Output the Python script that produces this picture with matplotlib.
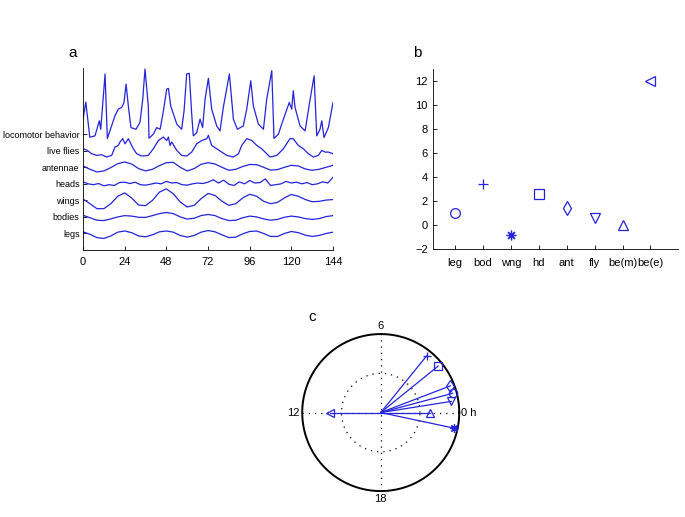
import numpy as np
import matplotlib
matplotlib.use("Agg")
import matplotlib.pyplot as plt

plt.rcParams["font.family"] = ["Liberation Sans", "DejaVu Sans"]

AZUL = "#2424dc"
ASTERISCO = (8, 2, 0)   # '*' estilo matlab (líneas, no estrella rellena)

# =============================================================
# DATOS - panel a (valores relativos a la línea base de cada traza)
# =============================================================
trace_names = ["legs", "bodies", "wings", "heads", "antennae", "live flies",
               "locomotor behavior"]

t4 = np.arange(0, 145, 4)      # muestras cada 4 h
t3 = np.arange(0, 145, 3)      # muestras cada 3 h

legs_v = [0.10, -0.05, -0.25, -0.30, -0.15, 0.08, 0.15, 0.05, -0.15, -0.20,
          -0.08, 0.10, 0.15, 0.08, -0.12, -0.22, -0.12, 0.08, 0.18, 0.10,
          -0.08, -0.25, -0.22, -0.02, 0.12, 0.15, 0.00, -0.18, -0.18, 0.00,
          0.12, 0.05, -0.10, -0.18, -0.12, 0.00, 0.08]

bodies_v = [0.10, -0.05, -0.20, -0.22, -0.12, 0.00, 0.08, 0.05, -0.02, -0.03,
            0.08, 0.20, 0.27, 0.20, 0.00, -0.13, -0.08, 0.08, 0.15, 0.08,
            -0.10, -0.22, -0.20, -0.05, 0.05, 0.00, -0.12, -0.20, -0.15, -0.02,
            0.05, 0.00, -0.10, -0.15, -0.10, 0.02, 0.08]

wings_v = [0.08, -0.20, -0.50, -0.50, -0.20, 0.25, 0.45, 0.15, -0.28, -0.32,
           0.00, 0.50, 0.70, 0.40, -0.10, -0.40, -0.30, 0.10, 0.42, 0.30,
           -0.05, -0.30, -0.20, 0.15, 0.37, 0.25, -0.05, -0.20, -0.12, 0.15,
           0.36, 0.25, 0.05, -0.08, -0.06, 0.02, 0.05]

heads_v = [0.12, 0.00, -0.05, 0.02, -0.12, -0.05, -0.10, 0.08, 0.10, 0.02,
           0.10, -0.05, -0.08, -0.02, 0.05, 0.00, 0.15, 0.05, 0.08, -0.05,
           -0.08, 0.00, 0.05, 0.02, 0.10, 0.25, 0.05, 0.22, -0.02, -0.10,
           0.12, 0.00, 0.20, 0.05, 0.08, 0.30, -0.10, -0.05, 0.00, 0.15,
           0.05, 0.10, 0.00, 0.08, -0.05, 0.00, 0.12, 0.05, 0.40]

antennae_v = [0.08, -0.12, -0.28, -0.22, -0.02, 0.22, 0.32, 0.20, -0.08, -0.22,
              -0.12, 0.10, 0.28, 0.30, 0.00, -0.22, -0.08, 0.18, 0.28, 0.20,
              0.00, -0.18, -0.12, 0.05, 0.17, 0.16, 0.00, -0.17, -0.14, 0.00,
              0.12, 0.08, -0.10, -0.18, -0.12, 0.00, 0.12]

fly_t = [0.2, 2.5, 5, 7.9, 10.8, 13.6, 16.5, 18.4, 20.3, 21.3, 22.9, 24.2, 26.1,
         28, 29, 30.9, 33.8, 37.6, 40.5, 43.4, 46.3, 48.2, 49.2, 50.1, 51.1, 54,
         56.8, 59.7, 62.6, 65.5, 68.4, 71.3, 72.2, 74.1, 77, 79.9, 82.8, 86.6,
         89.5, 91.4, 94.3, 97.2, 100.1, 102.9, 105.8, 107.7, 111.6, 115.4,
         119.2, 121.1, 124, 126.9, 129.8, 132.7, 135.5, 137.5, 139.4, 141.3, 144]
fly_v = [0.12, 0.02, -0.18, -0.28, -0.24, -0.38, -0.28, 0.22, 0.32, 0.53, 0.73,
         0.42, 0.73, 0.32, 0.12, -0.18, -0.32, -0.28, 0.12, 0.62, 0.83, 0.62,
         0.83, 0.32, 0.53, 0.02, -0.28, -0.32, -0.08, 0.42, 0.62, 0.73, 0.93,
         0.32, 0.12, -0.08, -0.28, -0.38, -0.18, 0.32, 0.73, 0.62, 0.32, 0.12,
         -0.18, -0.38, -0.28, 0.12, 0.73, 0.73, 0.32, 0.12, -0.18, -0.38, -0.28,
         0.02, -0.08, -0.08, -0.18]

loco_t = [0, 1.6, 3.9, 6.9, 9.4, 10.2, 12.7, 14, 18.4, 20.3, 22.3, 23.6, 24.8,
          26.1, 27.6, 30.5, 32.8, 34.4, 35.7, 37.6, 38, 40.5, 42.4, 44.4, 46.3,
          48.2, 49.2, 50.5, 54, 56.8, 58.2, 59.7, 61.2, 62.6, 63.5, 65.5, 67.4,
          68.9, 70.3, 72.2, 74.1, 77, 78.9, 80.8, 84.3, 86.6, 88.9, 92.3, 94.3,
          96.6, 98.1, 101, 103.9, 105.8, 108.7, 110, 112.5, 115.4, 118.8, 120.2,
          121.1, 122.1, 125, 127.9, 130.8, 133.1, 134.6, 136.5, 137.5, 138.8,
          141.3, 144]
loco_v = [0.91, 1.94, -0.18, -0.10, 0.81, 0.30, 3.64, -0.26, 1.11, 1.52, 1.62,
          1.92, 3.03, 1.71, 0.40, 0.30, 0.71, 2.12, 3.94, 1.71, -0.24, 0.00,
          0.40, 0.30, 1.41, 2.73, 2.77, 1.71, 0.61, 0.30, 1.41, 3.64, 3.68, 1.21,
          -0.10, 0.10, 0.91, 0.40, 2.12, 3.38, 1.52, 0.50, 0.20, 1.62, 3.64, 0.91,
          0.30, 0.50, 1.52, 3.23, 1.71, 0.61, 0.30, 2.12, 3.84, -0.26, 0.00, 0.91,
          1.92, 1.52, 2.63, 1.62, 0.50, 0.20, 2.12, 3.53, -0.10, 0.30, 0.81,
          -0.20, 0.40, 1.92]

# =============================================================
# DATOS - paneles b y c (fase en horas, amplitud relativa)
# =============================================================
cat_labels = ["leg", "bod", "wng", "hd", "ant", "fly", "be(m)", "be(e)"]
cat_markers = ["o", "+", ASTERISCO, "s", "d", "v", "^", "<"]
phase_h = [1.0, 3.4, -0.8, 2.6, 1.4, 0.6, 0.0, 12.0]
amplitude = [0.95, 0.93, 0.95, 0.94, 0.95, 0.91, 0.63, 0.65]

fig = plt.figure(figsize=(6.85, 5.17), dpi=100)

# =============================================================
# PANEL a
# =============================================================
ax1 = fig.add_axes([0.1212, 0.5164, 0.3650, 0.3520])
series = [(t4, legs_v), (t4, bodies_v), (t4, wings_v), (t3, heads_v),
          (t4, antennae_v), (fly_t, fly_v), (loco_t, loco_v)]
for nivel, (tt, vv) in enumerate(series, start=1):
    ax1.plot(tt, np.array(vv) + nivel, color=AZUL, lw=0.9)
ax1.set_xlim(0, 144)
ax1.set_ylim(0, 11)
ax1.set_xticks(range(0, 145, 24))
ax1.set_yticks(range(1, 8))
ax1.set_yticklabels(trace_names)
ax1.tick_params(direction="in", length=3, width=0.6, labelsize=6.5, pad=2.5)
ax1.tick_params(axis="x", labelsize=8, pad=5)
for s in ["top", "right"]:
    ax1.spines[s].set_visible(False)
for s in ["left", "bottom"]:
    ax1.spines[s].set_linewidth(0.6)

# =============================================================
# PANEL b
# =============================================================
ax2 = fig.add_axes([0.6326, 0.5178, 0.3577, 0.3482])
for i in range(len(cat_labels)):
    ax2.plot(i + 1, phase_h[i], marker=cat_markers[i], ms=7, mfc="none",
             mec=AZUL, mew=0.9, ls="none")
ax2.set_xlim(0.22, 9.0)
ax2.set_ylim(-2, 13)
ax2.set_xticks(range(1, 9))
ax2.set_xticklabels(cat_labels)
ax2.set_yticks(range(-2, 13, 2))
ax2.tick_params(direction="in", length=3, width=0.6, labelsize=8, pad=4)
ax2.tick_params(axis="x", labelsize=8, pad=6)
for s in ["top", "right"]:
    ax2.spines[s].set_visible(False)
for s in ["left", "bottom"]:
    ax2.spines[s].set_linewidth(0.6)

# =============================================================
# PANEL c (brújula: 24 h = 360 grados, 0 h a la derecha)
# =============================================================
ax3 = fig.add_axes([0.4125, 0.0122, 0.2866, 0.3796])
ang = np.linspace(0, 2 * np.pi, 400)
ax3.plot(np.cos(ang), np.sin(ang), color="black", lw=1.4)
ax3.plot(0.5 * np.cos(ang), 0.5 * np.sin(ang), color="black", lw=0.9,
         ls=(0, (1, 4)))
ax3.plot([-1, 1], [0, 0], color="black", lw=0.9, ls=(0, (1, 4)))
ax3.plot([0, 0], [-1, 1], color="black", lw=0.9, ls=(0, (1, 4)))
for i in range(len(cat_labels)):
    th = phase_h[i] / 24 * 2 * np.pi
    x = amplitude[i] * np.cos(th)
    y = amplitude[i] * np.sin(th)
    ax3.plot([0, x], [0, y], color=AZUL, lw=0.9)
    ax3.plot(x, y, marker=cat_markers[i], ms=6, mfc="none", mec=AZUL,
             mew=0.9, ls="none")
ax3.text(0, 1.04, "6", ha="center", va="bottom", fontsize=8)
ax3.text(0, -1.04, "18", ha="center", va="top", fontsize=8)
ax3.text(-1.03, 0, "12", ha="right", va="center", fontsize=8)
ax3.text(1.02, 0, "0 h", ha="left", va="center", fontsize=8)
ax3.set_xlim(-1.25, 1.25)
ax3.set_ylim(-1.25, 1.25)
ax3.set_aspect("equal")
ax3.axis("off")

# letras de los paneles
fig.text(0.1066, 0.8975, "a", fontsize=11, ha="center", va="center")
fig.text(0.6088, 0.8975, "b", fontsize=11, ha="center", va="center")
fig.text(0.4555, 0.3868, "c", fontsize=11, ha="center", va="center")

fig.savefig("out.png", dpi=100)
